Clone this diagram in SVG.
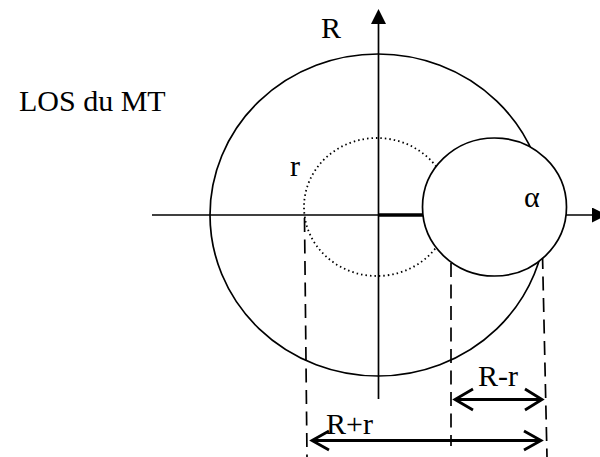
<svg xmlns="http://www.w3.org/2000/svg" width="600" height="457" viewBox="0 0 600 457">
<style>
  .t { font-family: 'Liberation Serif', 'Times New Roman', 'DejaVu Serif', serif; font-size: 30px; fill: #000; }
  .ln { stroke: #000; stroke-width: 1.7; fill: none; }
  .dash { stroke: #000; stroke-width: 1.7; fill: none; stroke-dasharray: 14 7.5; }
  .dim { stroke: #000; stroke-width: 2.8; fill: none; }
</style>
<defs>
  <marker id="tri" viewBox="0 0 10 10" refX="0" refY="5" markerWidth="15" markerHeight="15" markerUnits="userSpaceOnUse" orient="auto">
    <path d="M0,0 L10,5 L0,10 Z" fill="#000"/>
  </marker>
</defs>
<rect width="600" height="457" fill="#fff"/>
<g id="big-circle"><ellipse class="ln" cx="378" cy="215" rx="168" ry="161"/></g>
<g id="dotted-circle"><ellipse cx="377" cy="207" rx="73" ry="69" fill="none" stroke="#000" stroke-width="1.8" stroke-dasharray="1.5 3"/></g>
<g id="connectors">
  <line class="ln" x1="152" y1="215" x2="592" y2="215" marker-end="url(#tri)"/>
  <line class="ln" x1="378.5" y1="399" x2="378.5" y2="24" marker-end="url(#tri)"/>
  <line x1="378" y1="215" x2="423" y2="215" stroke="#000" stroke-width="3.5"/>
  <line class="dash" x1="304.5" y1="218" x2="307" y2="457"/>
  <line class="dash" x1="451" y1="263" x2="451" y2="446"/>
  <line class="dash" x1="542.5" y1="255" x2="547" y2="457"/>
  <path class="dim" d="M455,399.5 H542 M473,389 L455,399.5 L473,410 M525,389 L542,399.5 L525,410"/>
  <path class="dim" d="M312,440.5 H541 M329,431 L312,440.5 L329,450 M524,431 L541,440.5 L524,450"/>
</g>
<g id="small-circle"><ellipse cx="494.5" cy="207" rx="72" ry="69" style="fill:#fff;stroke:#000;stroke-width:1.7"/></g>
<g id="labels">
  <text class="t" x="19" y="111">LOS du MT</text>
  <text class="t" x="321" y="38">R</text>
  <text class="t" x="290" y="176">r</text>
  <text class="t" x="524" y="207">α</text>
  <text class="t" x="478" y="386">R-r</text>
  <text class="t" x="326" y="434">R+r</text>
</g>
</svg>
